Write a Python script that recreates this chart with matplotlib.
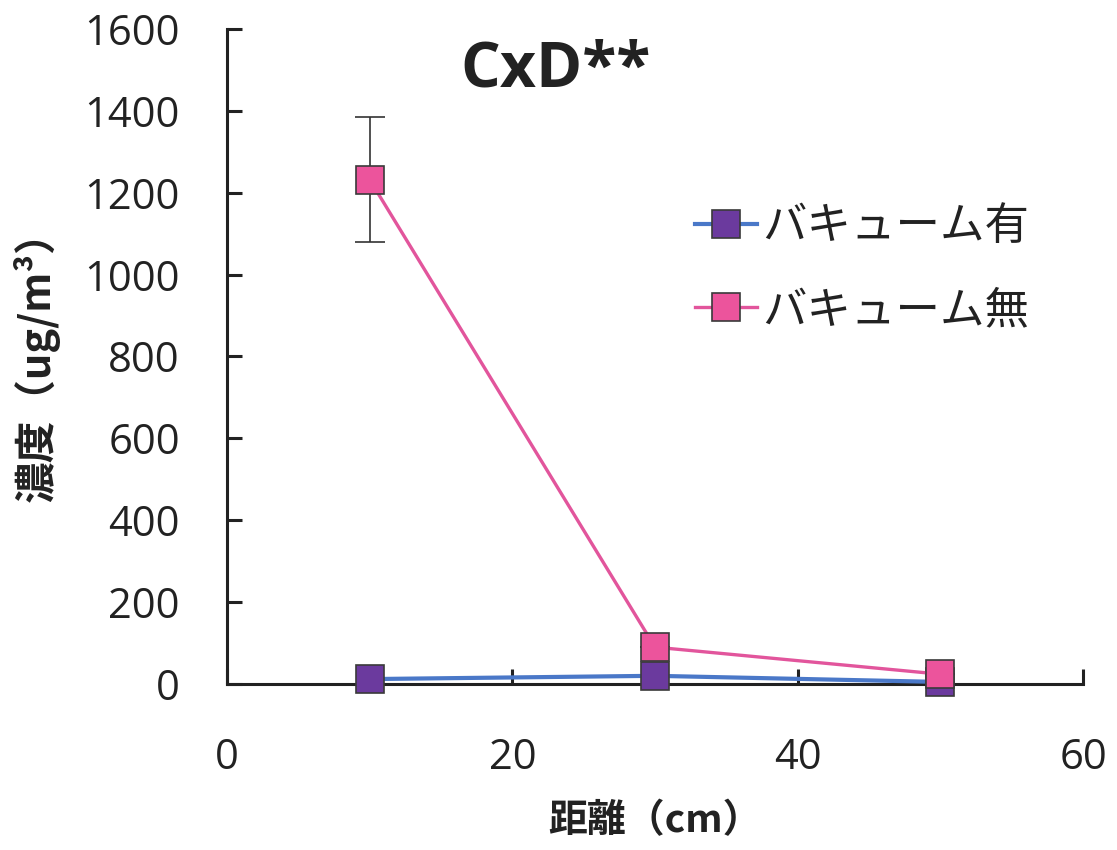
import matplotlib
matplotlib.use("Agg")
import matplotlib.pyplot as plt

plt.rcParams['font.family'] = ['Open Sans', 'Noto Sans CJK JP', 'DejaVu Sans']

# data
distance = [10, 30, 50]
with_vac = [12, 20, 5]
without_vac = [1232, 90, 24]
without_err = [152, 0, 0]
labels = ['バキューム有', 'バキューム無']
title = 'CxD**'
x_ticks = [0, 20, 40, 60]
y_ticks = [0, 200, 400, 600, 800, 1000, 1200, 1400, 1600]

blue_line = '#4A78C8'
purple_fill = '#6B3A9E'
pink_line = '#E2559C'
pink_fill = '#EC549C'
edge = '#3A3A3A'

fig = plt.figure(figsize=(11.17, 8.5), dpi=100)
ax = fig.add_axes([0.2032, 0.1953, 0.7664, 0.7706])

ax.errorbar(distance, without_vac, yerr=without_err, fmt='none', ecolor='#333333',
            elinewidth=1.2, capsize=11, capthick=1.2, zorder=2)
ax.plot(distance, with_vac, color=blue_line, lw=3, marker='s', ms=19.5,
        mfc=purple_fill, mec=edge, mew=1.2, label=labels[0], clip_on=False, zorder=3)
ax.plot(distance, without_vac, color=pink_line, lw=2.4, marker='s', ms=19.5,
        mfc=pink_fill, mec=edge, mew=1.2, label=labels[1], clip_on=False, zorder=4)

ax.set_xlim(0, 60)
ax.set_ylim(0, 1600)
ax.set_xticks(x_ticks)
ax.set_yticks(y_ticks)
ax.spines['top'].set_visible(False)
ax.spines['right'].set_visible(False)
for s in ['left', 'bottom']:
    ax.spines[s].set_linewidth(2.2)
    ax.spines[s].set_color('#222222')
ax.tick_params(axis='both', direction='in', length=11, width=2.2, color='#222222',
               labelsize=30, labelcolor='#222222')
ax.tick_params(axis='x', pad=38)
ax.tick_params(axis='y', pad=34)

ax.set_xlabel('距離（cm）', fontsize=28, fontweight='bold', color='#222222',
              family=['Noto Sans CJK JP', 'DejaVu Sans'], labelpad=16)
ax.set_ylabel('濃度（ug/m³）', fontsize=30, fontweight='bold', color='#222222',
              family=['Noto Sans CJK JP', 'DejaVu Sans'], labelpad=18)

fig.text(0.497, 0.918, title, fontsize=45, fontweight='bold', color='#222222',
         ha='center', va='center')

leg = ax.legend(loc='upper left', bbox_to_anchor=(0.50, 0.795), frameon=False,
                prop={'family': ['Noto Sans CJK JP', 'DejaVu Sans'], 'size': 32},
                handlelength=1.4, handletextpad=0.1, labelspacing=0.85, markerscale=1.0)
for t in leg.get_texts():
    t.set_color('#222222')

fig.savefig('out.png', dpi=100)
